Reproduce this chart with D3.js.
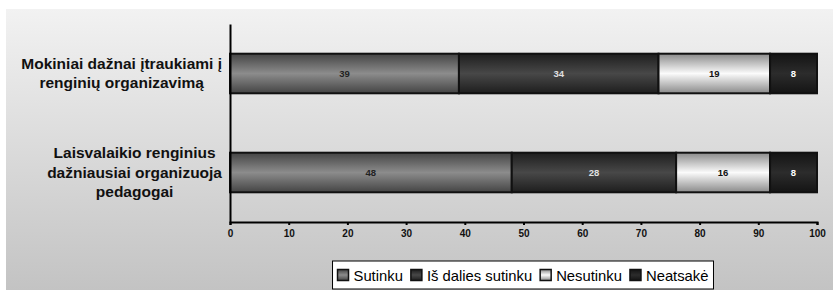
<!DOCTYPE html>
<html>
<head>
<meta charset="utf-8">
<script src="https://cdn.jsdelivr.net/npm/d3@7"></script>
<style>
  body { margin: 0; background: #ffffff; }
  #canvas { width: 834px; height: 290px; }
</style>
</head>
<body>
<div id="canvas"></div>
<script>
"use strict"

/* chart data */
let categories = ["Mokiniai dažnai įtraukiami į\nrenginių organizavimą",
    "Laisvalaikio renginius\ndažniausiai organizuoja\npedagogai"];
let seriesNames = ["Sutinku", "Iš dalies sutinku", "Nesutinku", "Neatsakė"];
let sutinku = [39, 48];
let isDaliesSutinku = [34, 28];
let nesutinku = [19, 16];
let neatsake = [8, 8];
let xTicks = [0, 10, 20, 30, 40, 50, 60, 70, 80, 90, 100];

/* gradient colours per series: [edge, middle] and label colour */
let segEdge = ["#444444", "#1e1e1e", "#8a8a8a", "#141414"];
let segMid = ["#8c8c8c", "#484848", "#fbfbfb", "#2c2c2c"];
let segText = ["#222222", "#e0e0e0", "#111111", "#ffffff"];

let drawing = d3.select("#canvas")
    .append("svg")
    .attr("width", 834)
    .attr("height", 290);

let defs = drawing.append("defs");

/* panel background gradient */
let bgGrad = defs.append("linearGradient")
    .attr("id", "bgGrad")
    .attr("x1", 0).attr("y1", 0).attr("x2", 0).attr("y2", 1);
bgGrad.append("stop").attr("offset", "0%").attr("stop-color", "#f2f2f2");
bgGrad.append("stop").attr("offset", "100%").attr("stop-color", "#c3c3c3");

/* cylinder-like gradients for the bar segments */
seriesNames.forEach(function (name, i) {
    let g = defs.append("linearGradient")
        .attr("id", "seg" + i)
        .attr("x1", 0).attr("y1", 0).attr("x2", 0).attr("y2", 1);
    g.append("stop").attr("offset", "0%").attr("stop-color", segEdge[i]);
    g.append("stop").attr("offset", "50%").attr("stop-color", segMid[i]);
    g.append("stop").attr("offset", "100%").attr("stop-color", segEdge[i]);
});

let panel = drawing.append("rect")
    .attr("x", 6)
    .attr("y", 9)
    .attr("width", 827)
    .attr("height", 281)
    .attr("fill", "url(#bgGrad)");

/* scales */
let x = d3.scaleLinear()
    .domain([0, 100])
    .range([230, 817]);

let y = d3.scaleBand()
    .domain(categories)
    .range([24, 222])
    .paddingInner(0.6)
    .paddingOuter(0.3);

/* stack the series */
let rows = categories.map(function (c, i) {
    return {
        cat: c,
        s0: sutinku[i],
        s1: isDaliesSutinku[i],
        s2: nesutinku[i],
        s3: neatsake[i]
    };
});
let stacked = d3.stack().keys(["s0", "s1", "s2", "s3"])(rows);

let bars = drawing.append("g");

stacked.forEach(function (layer, i) {
    bars.selectAll(".seg" + i)
        .data(layer)
        .enter()
        .append("rect")
        .attr("x", d => x(d[0]))
        .attr("y", d => y(d.data.cat))
        .attr("width", d => x(d[1]) - x(d[0]))
        .attr("height", y.bandwidth())
        .attr("fill", "url(#seg" + i + ")")
        .attr("stroke", "#111111")
        .attr("stroke-width", 2);

    bars.selectAll(".lbl" + i)
        .data(layer)
        .enter()
        .append("text")
        .attr("x", d => (x(d[0]) + x(d[1])) / 2)
        .attr("y", d => y(d.data.cat) + y.bandwidth() / 2 + 3.5)
        .attr("text-anchor", "middle")
        .attr("font-family", "Liberation Sans, Arial, sans-serif")
        .attr("font-size", 9.5)
        .attr("font-weight", "bold")
        .attr("fill", segText[i])
        .text(d => d[1] - d[0]);
});

/* x axis */
let xAxis = drawing.append("g")
    .attr("transform", "translate(0,222)")
    .call(d3.axisBottom(x).tickValues(xTicks).tickSize(3).tickSizeOuter(3).tickPadding(5));
xAxis.select(".domain").attr("stroke", "#000").attr("stroke-width", 2);
xAxis.selectAll(".tick line").attr("stroke", "#000").attr("stroke-width", 2);
xAxis.selectAll(".tick text")
    .attr("font-family", "Liberation Sans, Arial, sans-serif")
    .attr("font-size", 10)
    .attr("font-weight", "bold")
    .attr("fill", "#111");

/* y axis - just the line, labels drawn below */
let yAxis = drawing.append("g")
    .attr("transform", "translate(230,0)")
    .call(d3.axisLeft(y).tickSize(0).tickSizeOuter(0).tickFormat(""));
yAxis.select(".domain").attr("stroke", "#000").attr("stroke-width", 2);

/* category labels: block right aligned, lines centred in the block */
categories.forEach(function (c) {
    let lines = c.split("\n");
    let lineH = 19.5;
    let cy = y(c) + y.bandwidth() / 2;
    let t = drawing.append("text")
        .attr("font-family", "Liberation Sans, Arial, sans-serif")
        .attr("font-size", 15.5)
        .attr("font-weight", "bold")
        .attr("fill", "#111")
        .attr("text-anchor", "middle");
    let spans = lines.map(function (l, k) {
        return t.append("tspan")
            .attr("y", cy - (lines.length - 1) * lineH / 2 + k * lineH + 5)
            .text(l);
    });
    let maxW = d3.max(spans, s => s.node().getComputedTextLength());
    spans.forEach(s => s.attr("x", 222 - maxW / 2));
});

/* legend */
let legend = drawing.append("g");
let legendBox = legend.append("rect")
    .attr("y", 261)
    .attr("height", 28)
    .attr("fill", "#ffffff")
    .attr("stroke", "#000")
    .attr("stroke-width", 1);

let lx = 0;
let items = [];
seriesNames.forEach(function (name, i) {
    let item = legend.append("g");
    item.append("rect")
        .attr("x", 0)
        .attr("y", -5.5)
        .attr("width", 11)
        .attr("height", 11)
        .attr("fill", "url(#seg" + i + ")")
        .attr("stroke", "#111")
        .attr("stroke-width", 1.5);
    let txt = item.append("text")
        .attr("x", 16)
        .attr("y", 5.5)
        .attr("font-family", "Liberation Sans, Arial, sans-serif")
        .attr("font-size", 14.8)
        .attr("fill", "#000")
        .text(name);
    items.push({ g: item, x: lx });
    lx += 16 + txt.node().getComputedTextLength() + 8;
});
let totalW = lx - 8;
let startX = 523 - totalW / 2;
items.forEach(function (it) {
    it.g.attr("transform", "translate(" + (startX + it.x) + ",275)");
});
legendBox.attr("x", startX - 5).attr("width", totalW + 10);
</script>
</body>
</html>
